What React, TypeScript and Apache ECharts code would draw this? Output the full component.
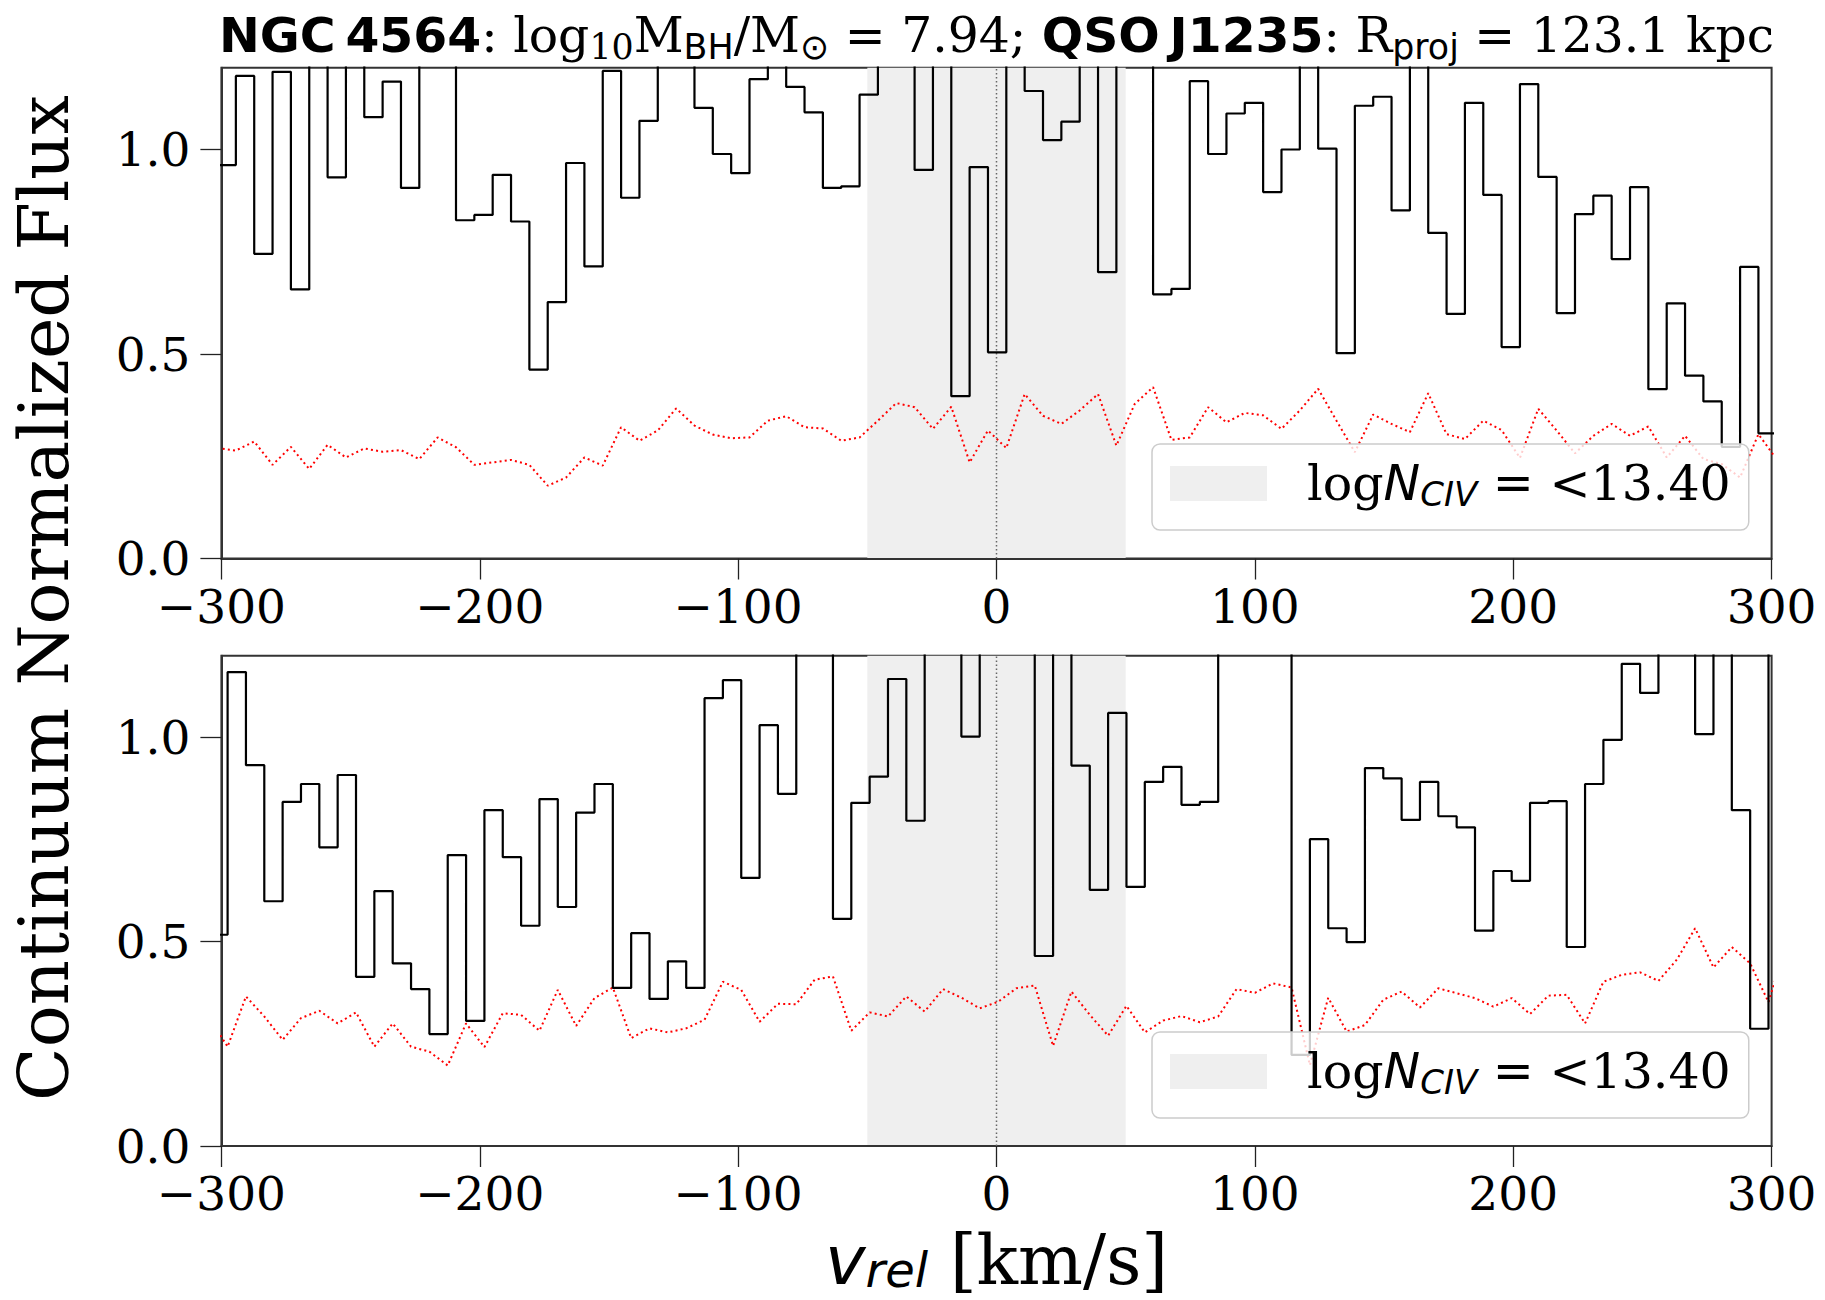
import React, { useEffect, useRef } from "react";
import * as echarts from "echarts";

// ---- axes / layout constants ----
const X_MIN = -300;
const X_MAX = 300;
const X_INTERVAL = 100;
const Y_MIN = 0;
const Y_MAX = 1.2;
const Y_TICKS = [0, 0.5, 1.0];
const SHADE = [-50, 50];
const ZERO_LINE = 0;

// pixel grid (km/s): left edge of first pixel and pixel width
const DV = 7.1;
const TOP_V0 = -301.5;
const BOT_V0 = -304.7;

// ---- panel 1 (top) : normalized flux per pixel ----
const topFlux = [
  0.962, 1.18, 0.745, 1.19, 0.658, 1.3, 0.932, 1.3, 1.079, 1.166,
  0.906, 1.3, 1.3, 0.827, 0.84, 0.938, 0.824, 0.462, 0.627, 0.967,
  0.714, 1.192, 0.882, 1.07, 1.3, 1.3, 1.102, 0.989, 0.942, 1.172,
  1.3, 1.153, 1.091, 0.906, 0.91, 1.134, 1.3, 1.3, 0.95, 1.3,
  0.397, 0.957, 0.504, 1.3, 1.143, 1.023, 1.068, 1.3, 0.7, 1.3,
  1.3, 0.646, 0.659, 1.167, 0.989, 1.088, 1.114, 0.896, 1.0, 1.3,
  1.002, 0.502, 1.107, 1.129, 0.851, 1.3, 0.796, 0.598, 1.114, 0.889,
  0.517, 1.16, 0.933, 0.6, 0.842, 0.887, 0.732, 0.908, 0.414, 0.624,
  0.447, 0.384, 0.273, 0.713, 0.306,
];
// ---- panel 1 (top) : flux error at pixel edges ----
const topErr = [
  0.27, 0.264, 0.286, 0.229, 0.273, 0.219, 0.278, 0.247, 0.269, 0.261,
  0.265, 0.243, 0.296, 0.272, 0.229, 0.235, 0.241, 0.229, 0.178, 0.198,
  0.247, 0.227, 0.321, 0.288, 0.313, 0.367, 0.325, 0.303, 0.294, 0.296,
  0.337, 0.348, 0.321, 0.318, 0.288, 0.296, 0.337, 0.38, 0.37, 0.317,
  0.371, 0.235, 0.313, 0.27, 0.402, 0.349, 0.329, 0.362, 0.402, 0.276,
  0.378, 0.419, 0.29, 0.296, 0.37, 0.333, 0.356, 0.35, 0.317, 0.362,
  0.415, 0.337, 0.26, 0.352, 0.329, 0.309, 0.404, 0.304, 0.292, 0.337,
  0.314, 0.246, 0.366, 0.313, 0.257, 0.3, 0.329, 0.3, 0.323, 0.247,
  0.3, 0.243, 0.231, 0.198, 0.304, 0.242,
];

// ---- panel 2 (bottom) : normalized flux per pixel ----
const botFlux = [
  0.517, 1.16, 0.932, 0.599, 0.842, 0.886, 0.731, 0.908, 0.414, 0.624,
  0.447, 0.384, 0.274, 0.712, 0.306, 0.822, 0.707, 0.539, 0.849, 0.585,
  0.816, 0.886, 0.387, 0.521, 0.36, 0.452, 0.387, 1.096, 1.14, 0.656,
  1.03, 0.862, 1.3, 1.3, 0.556, 0.84, 0.904, 1.143, 0.796, 1.3,
  1.3, 1.002, 1.3, 1.3, 1.3, 0.465, 1.3, 0.931, 0.627, 1.06,
  0.634, 0.891, 0.928, 0.835, 0.842, 1.3, 1.3, 1.3, 1.3, 0.223,
  0.751, 0.533, 0.499, 0.925, 0.9, 0.798, 0.891, 0.807, 0.78, 0.527,
  0.673, 0.649, 0.84, 0.844, 0.487, 0.886, 0.994, 1.18, 1.109, 1.3,
  1.3, 1.008, 1.3, 0.822, 0.287, 1.3,
];
// ---- panel 2 (bottom) : flux error at pixel edges ----
const botErr = [
  0.314, 0.243, 0.366, 0.317, 0.26, 0.313, 0.331, 0.3, 0.327, 0.243,
  0.3, 0.243, 0.231, 0.197, 0.3, 0.242, 0.325, 0.321, 0.282, 0.382,
  0.294, 0.362, 0.388, 0.264, 0.288, 0.278, 0.288, 0.309, 0.402, 0.382,
  0.304, 0.348, 0.347, 0.407, 0.415, 0.282, 0.327, 0.317, 0.366, 0.329,
  0.384, 0.363, 0.337, 0.353, 0.386, 0.393, 0.245, 0.378, 0.321, 0.27,
  0.343, 0.278, 0.307, 0.318, 0.303, 0.317, 0.384, 0.375, 0.398, 0.388,
  0.198, 0.363, 0.28, 0.296, 0.358, 0.378, 0.339, 0.386, 0.374, 0.362,
  0.341, 0.362, 0.323, 0.368, 0.37, 0.3, 0.402, 0.419, 0.425, 0.404,
  0.456, 0.533, 0.437, 0.487, 0.447, 0.352, 0.5,
];

const SERIF = "'DejaVu Serif', serif";
const SANS = "'DejaVu Sans', sans-serif";
const SHADE_COLOR = "#efefef";

const W = 1825;
const H = 1300;
const GRID_LEFT = 221.4;
const GRID_W = 1550.2;
const GRIDS = [
  { top: 67.7, height: 490.8 },
  { top: 655.7, height: 490.3 },
];

function stepPoints(v0: number, vals: number[]) {
  const pts = vals.map((y, i) => [v0 + i * DV, y]);
  pts.push([v0 + vals.length * DV, vals[vals.length - 1]]);
  return pts;
}
function edgePoints(v0: number, vals: number[]) {
  return vals.map((y, i) => [v0 + i * DV, y]);
}

const fmtX = (v: number) => (v < 0 ? "\u2212" + Math.abs(v) : String(v));

function buildOption() {
  const panels = [
    { v0: TOP_V0, flux: topFlux, err: topErr, name: "shadeTop" },
    { v0: BOT_V0, flux: botFlux, err: botErr, name: "shadeBot" },
  ];

  const grid = GRIDS.map((g) => ({
    left: GRID_LEFT,
    top: g.top,
    width: GRID_W,
    height: g.height,
    show: true,
    backgroundColor: "transparent",
    borderColor: "#333",
    borderWidth: 2,
    containLabel: false,
  }));

  const xAxis = GRIDS.map((_, i) => ({
    gridIndex: i,
    type: "value",
    min: X_MIN,
    max: X_MAX,
    interval: X_INTERVAL,
    axisLine: { show: true, onZero: false, lineStyle: { color: "#333", width: 2 } },
    axisTick: { show: true, inside: false, length: 21, lineStyle: { color: "#222", width: 1.3 } },
    axisLabel: {
      formatter: fmtX,
      fontFamily: SERIF,
      fontSize: 47,
      color: "#000",
      margin: 24,
    },
    splitLine: { show: false },
  }));

  const yAxis = GRIDS.map((_, i) => ({
    gridIndex: i,
    type: "value",
    min: Y_MIN,
    max: Y_MAX,
    interval: 0.5,
    axisLine: { show: true, onZero: false, lineStyle: { color: "#333", width: 2 } },
    axisTick: {
      show: true,
      inside: false,
      length: 21,
      customValues: Y_TICKS,
      lineStyle: { color: "#222", width: 1.3 },
    },
    axisLabel: {
      customValues: Y_TICKS,
      formatter: (v: number) => (Math.abs(v - Y_MAX) < 1e-6 ? "" : v.toFixed(1)),
      fontFamily: SERIF,
      fontSize: 47,
      color: "#000",
      margin: 31,
    },
    splitLine: { show: false },
  }));

  const series: any[] = [];
  panels.forEach((p, i) => {
    series.push({
      type: "custom",
      name: p.name,
      xAxisIndex: i,
      yAxisIndex: i,
      z: 0,
      silent: true,
      itemStyle: { color: SHADE_COLOR },
      encode: { x: [0, 1] },
      data: [[SHADE[0], SHADE[1]]],
      renderItem: (_params: any, api: any) => {
        const a = api.coord([api.value(0), Y_MAX]);
        const b = api.coord([api.value(1), Y_MIN]);
        return {
          type: "rect",
          shape: { x: a[0], y: a[1], width: b[0] - a[0], height: b[1] - a[1] },
          style: { fill: SHADE_COLOR },
        };
      },
    });
    series.push({
      type: "line",
      xAxisIndex: i,
      yAxisIndex: i,
      z: 1,
      silent: true,
      symbol: "none",
      data: [
        [ZERO_LINE, Y_MIN],
        [ZERO_LINE, Y_MAX],
      ],
      lineStyle: { color: "#666", width: 1.5, type: [1.5, 2.5] },
    });
    series.push({
      type: "line",
      xAxisIndex: i,
      yAxisIndex: i,
      z: 2,
      silent: true,
      symbol: "none",
      clip: true,
      data: edgePoints(p.v0, p.err),
      lineStyle: { color: "#ff0000", width: 2, type: [2, 3.2] },
    });
    series.push({
      type: "line",
      xAxisIndex: i,
      yAxisIndex: i,
      z: 3,
      silent: true,
      symbol: "none",
      step: "end",
      clip: true,
      data: stepPoints(p.v0, p.flux),
      lineStyle: { color: "#000", width: 2.2 },
    });
  });

  const legendRich = {
    sp: { width: 35, fontSize: 49, lineHeight: 55 },
    r: { fontFamily: SERIF, fontSize: 49, lineHeight: 55, color: "#000" },
    i: { fontFamily: SANS, fontStyle: "italic", fontSize: 49, lineHeight: 55, color: "#000" },
    s: { fontFamily: SANS, fontStyle: "italic", fontSize: 34, lineHeight: 27, verticalAlign: "bottom", color: "#000" },
    m: { fontFamily: SANS, fontSize: 49, lineHeight: 55, color: "#000" },
  };
  const legendText = "{sp| }{r|log}{i|N}{s|CIV}{m| = }{r|<13.40}";

  const legend = panels.map((p, i) => ({
    data: [{ name: p.name, icon: "rect" }],
    left: 1152,
    top: GRIDS[i].top + 376.3,
    orient: "horizontal",
    padding: [15, 18, 19, 18],
    itemWidth: 97,
    itemHeight: 35,
    itemGap: 0,
    backgroundColor: "rgba(255,255,255,0.8)",
    borderColor: "#cccccc",
    borderWidth: 1.5,
    borderRadius: 8,
    selectedMode: false,
    formatter: () => legendText,
    textStyle: { rich: legendRich, fontSize: 49, fontFamily: SERIF },
  }));

  const titleRich = {
    b: { fontFamily: SANS, fontWeight: "bold", fontSize: 48.8, lineHeight: 57, color: "#000" },
    r: { fontFamily: SERIF, fontSize: 48.8, lineHeight: 57, color: "#000" },
    m: { fontFamily: SANS, fontSize: 48.8, lineHeight: 57, color: "#000" },
    s: { fontFamily: SERIF, fontSize: 34.8, lineHeight: 29, verticalAlign: "bottom", color: "#000" },
    ss: { fontFamily: SANS, fontSize: 34.8, lineHeight: 29, verticalAlign: "bottom", color: "#000" },
  };
  const titleText =
    "{b|NGC\u20094564}{r|: log}{s|10}{r|M}{ss|BH}{r|/M}{ss|\u2299}{m| = }{r|7.94; }" +
    "{b|QSO\u2009J1235}{r|: R}{ss|proj}{m| = }{r|123.1 kpc}";

  const xlabRich = {
    v: { fontFamily: SANS, fontStyle: "italic", fontSize: 68.5, lineHeight: 68, color: "#000" },
    s: { fontFamily: SANS, fontStyle: "italic", fontSize: 48, lineHeight: 34, verticalAlign: "bottom", color: "#000" },
    r: { fontFamily: SERIF, fontSize: 68.5, lineHeight: 68, color: "#000" },
  };

  const graphic = [
    {
      type: "text",
      x: GRID_LEFT + GRID_W / 2,
      y: 35.6,
      silent: true,
      style: { text: titleText, rich: titleRich, align: "center", verticalAlign: "middle" },
    },
    {
      type: "text",
      x: GRID_LEFT + GRID_W / 2,
      y: 1260,
      silent: true,
      style: { text: "{v|v}{s|rel}{r| [km/s]}", rich: xlabRich, align: "center", verticalAlign: "middle" },
    },
    {
      type: "text",
      x: 44,
      y: 598,
      rotation: Math.PI / 2,
      silent: true,
      style: {
        text: "Continuum Normalized Flux",
        fontFamily: SERIF,
        fontSize: 70,
        fill: "#000",
        align: "center",
        verticalAlign: "middle",
      },
    },
  ];

  return {
    animation: false,
    backgroundColor: "#ffffff",
    grid,
    xAxis,
    yAxis,
    legend,
    series,
    graphic,
  };
}

export default function App() {
  const ref = useRef<HTMLDivElement>(null);
  useEffect(() => {
    if (!ref.current) return;
    const chart = echarts.init(ref.current, undefined, { renderer: "svg", width: W, height: H });
    chart.setOption(buildOption() as any);
    return () => chart.dispose();
  }, []);
  return (
    <div
      ref={ref}
      style={{ position: "absolute", left: 0, top: 0, width: W, height: H, background: "#fff" }}
    />
  );
}
